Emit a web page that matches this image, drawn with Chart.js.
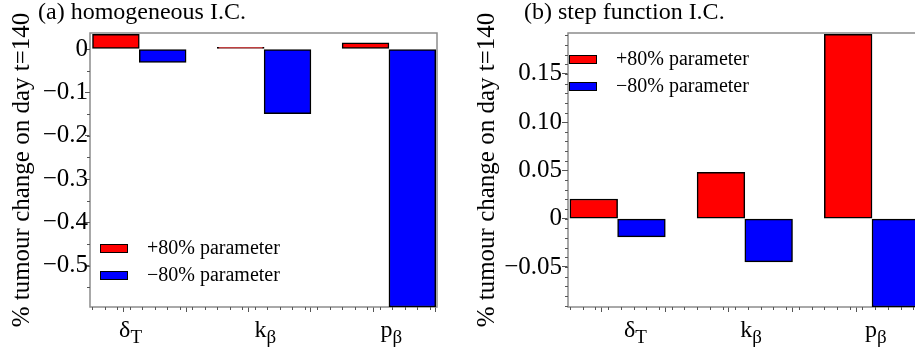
<!DOCTYPE html>
<html>
<head>
<meta charset="utf-8">
<script src="https://cdn.jsdelivr.net/npm/chart.js@4"></script>
<style>
  html, body { margin: 0; padding: 0; background: #fff; overflow: hidden; }
  body { width: 915px; height: 352px; position: relative; }
  canvas { position: absolute; top: 0; }
  #chartA { left: 0; }
  #chartB { left: 460px; }
</style>
</head>
<body>
<canvas id="chartA" width="460" height="352"></canvas>
<canvas id="chartB" width="470" height="352"></canvas>
<script>
// parameters on the x axis (main symbol + subscript)
const paramMain = ['δ', 'k', 'p'];
const paramSub = ['T', 'β', 'β'];
const groupStart = [0, 2, 4];
const seriesNames = ['+80% parameter', '−80% parameter'];

// (a) homogeneous I.C.
const homPlus = [0.034, 0.004, 0.0145];
const homMinus = [-0.031, -0.149, -0.595];
// (b) step function I.C.
const stepPlus = [0.0204, 0.048, 0.191];
const stepMinus = [-0.0188, -0.0448, -0.0915];

const homTickValues = [0, -0.1, -0.2, -0.3, -0.4, -0.5];
const homTickLabels = ['0', '−0.1', '−0.2', '−0.3', '−0.4', '−0.5'];
const stepTickValues = [0.15, 0.10, 0.05, 0, -0.05];
const stepTickLabels = ['0.15', '0.10', '0.05', '0', '−0.05'];
const xMajorTicks = [0, 1, 2, 3, 4, 5];
const homLabelX = [0.61, 2.77, 4.79];
const stepLabelX = [1.03, 2.85, 4.81];

const serif = "'Liberation Serif', 'Times New Roman', serif";
Chart.defaults.font.family = serif;
Chart.defaults.color = '#000';

const panelDecor = {
  id: 'panelDecor',
  beforeDatasetsDraw(chart, args, opts) {
    const { ctx, chartArea: a } = chart;
    const xs = chart.scales.x, ys = chart.scales.y;
    ctx.save();
    ctx.strokeStyle = '#8c8c8c';
    ctx.lineWidth = 1.5;
    ctx.strokeRect(a.left, a.top, a.right - a.left, a.bottom - a.top);

    // minor ticks
    ctx.strokeStyle = '#555';
    ctx.lineWidth = 1;
    ctx.beginPath();
    for (let i = Math.ceil(xs.min / opts.xMinor); i * opts.xMinor <= xs.max; i++) {
      const px = Math.round(xs.getPixelForValue(i * opts.xMinor)) + 0.5;
      ctx.moveTo(px, a.bottom);
      ctx.lineTo(px, a.bottom + 3);
    }
    for (let i = Math.ceil(ys.min / opts.yMinor); i * opts.yMinor <= ys.max; i++) {
      const py = Math.round(ys.getPixelForValue(i * opts.yMinor)) + 0.5;
      ctx.moveTo(a.left - 3, py);
      ctx.lineTo(a.left, py);
    }
    ctx.stroke();
    ctx.restore();
  },
  afterDraw(chart, args, opts) {
    const { ctx, chartArea: a } = chart;
    const xs = chart.scales.x;
    ctx.save();
    ctx.fillStyle = '#000';
    ctx.textBaseline = 'alphabetic';

    // panel title
    ctx.font = `24px ${serif}`;
    ctx.fillText(opts.title, opts.titleX, 19);

    // x labels with subscripts
    opts.labelX.forEach((v, i) => {
      ctx.font = `24px ${serif}`;
      const w1 = ctx.measureText(paramMain[i]).width;
      ctx.font = `19px ${serif}`;
      const w2 = ctx.measureText(paramSub[i]).width;
      const x0 = xs.getPixelForValue(v) - (w1 + w2) / 2;
      ctx.font = `24px ${serif}`;
      ctx.fillText(paramMain[i], x0, 337);
      ctx.font = `19px ${serif}`;
      ctx.fillText(paramSub[i], x0 + w1, 343);
    });

    // legend inside the plot
    ctx.font = `20px ${serif}`;
    ctx.textBaseline = 'middle';
    chart.data.datasets.forEach((ds, i) => {
      const bx = a.left + opts.legendX;
      const by = a.top + opts.legendY + i * 27;
      ctx.fillStyle = ds.backgroundColor;
      ctx.fillRect(bx, by, 28, 9);
      ctx.strokeStyle = '#000';
      ctx.lineWidth = 1;
      ctx.strokeRect(bx + 0.5, by + 0.5, 27, 8);
      ctx.fillStyle = '#000';
      ctx.fillText(ds.label, bx + 47, by + 5);
    });
    ctx.restore();
  }
};

function makeChart(id, cfg) {
  const barStyle = {
    borderColor: '#000',
    borderWidth: 1.5,
    borderSkipped: false,
    grouped: false,
    barPercentage: 1,
    categoryPercentage: 1,
  };
  return new Chart(document.getElementById(id), {
    type: 'bar',
    data: {
      datasets: [
        { ...barStyle, label: seriesNames[0], backgroundColor: '#ff0000',
          data: cfg.plus.map((v, i) => ({ x: groupStart[i] + 0.375, y: v })) },
        { ...barStyle, label: seriesNames[1], backgroundColor: '#0000ff',
          data: cfg.minus.map((v, i) => ({ x: groupStart[i] + 1.125, y: v })) },
      ],
    },
    plugins: [panelDecor],
    options: {
      responsive: false,
      animation: false,
      layout: { padding: { top: 33, right: cfg.padRight, left: 0, bottom: 0 } },
      plugins: {
        legend: { display: false },
        tooltip: { enabled: false },
        panelDecor: {
          title: cfg.title, titleX: cfg.titleX, labelX: cfg.labelX,
          legendX: cfg.legendX, legendY: cfg.legendY,
          xMinor: 0.2, yMinor: cfg.yMinor,
        },
      },
      scales: {
        x: {
          type: 'linear',
          offset: false,
          min: cfg.xMin,
          max: 5.52,
          afterBuildTicks: (s) => { s.ticks = xMajorTicks.map((v) => ({ value: v })); },
          afterFit: (s) => { s.height = 45; },
          ticks: { display: false },
          grid: { drawOnChartArea: false, tickLength: 5, tickColor: '#555' },
          border: { display: false },
        },
        y: {
          min: cfg.yMin,
          max: cfg.yMax,
          afterBuildTicks: (s) => { s.ticks = cfg.tickValues.map((v) => ({ value: v })); },
          afterFit: (s) => { s.width = cfg.yWidth; },
          ticks: {
            autoSkip: false,
            padding: cfg.tickPad,
            color: '#000',
            font: { family: serif, size: 25 },
            callback: (v, i) => cfg.tickLabels[i],
          },
          grid: { drawOnChartArea: false, tickLength: cfg.tickLen, tickColor: '#555' },
          border: { display: false },
          title: {
            display: true,
            text: '% tumour change on day t=140',
            color: '#000',
            font: { family: serif, size: 25 },
            padding: { top: cfg.titlePad, bottom: 0 },
          },
        },
      },
    },
  });
}

makeChart('chartA', {
  plus: homPlus, minus: homMinus,
  tickValues: homTickValues, tickLabels: homTickLabels,
  yMin: -0.595, yMax: 0.037, yMinor: 0.05,
  xMin: -0.04, yWidth: 90, padRight: 23, titlePad: 7,
  tickLen: 5, tickPad: -3,
  title: '(a) homogeneous I.C.', titleX: 38, labelX: homLabelX,
  legendX: 10, legendY: 211,
});

makeChart('chartB', {
  plus: stepPlus, minus: stepMinus,
  tickValues: stepTickValues, tickLabels: stepTickLabels,
  yMin: -0.0915, yMax: 0.1924, yMinor: 0.01,
  xMin: -0.03, yWidth: 108, padRight: 9, titlePad: 12,
  tickLen: 6, tickPad: 0,
  title: '(b) step function I.C.', titleX: 64, labelX: stepLabelX,
  legendX: 1, legendY: 22,
});
</script>
</body>
</html>
